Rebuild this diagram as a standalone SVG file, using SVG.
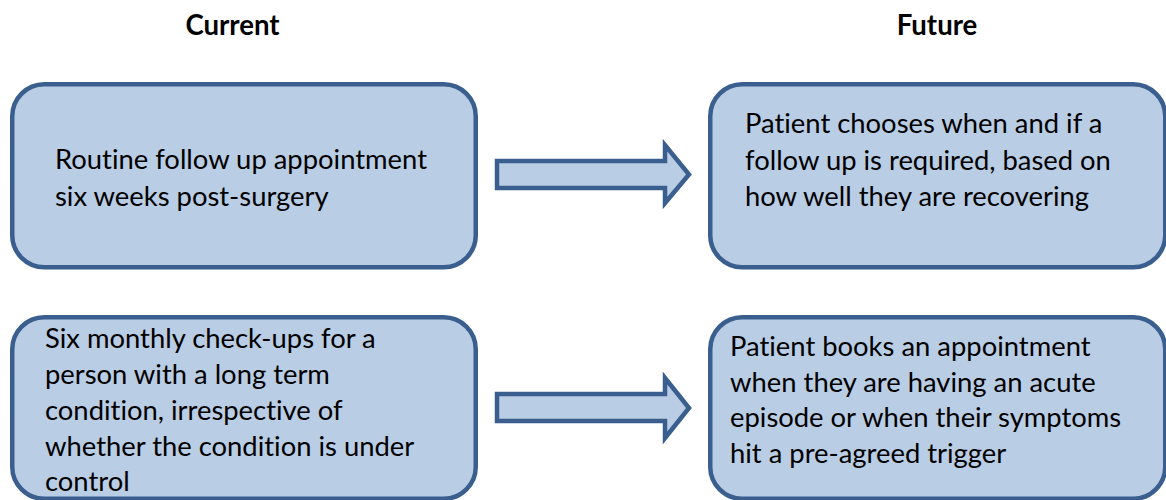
<svg xmlns="http://www.w3.org/2000/svg" width="1166" height="500" viewBox="0 0 1166 500">
  <style>
    .box { fill: #B9CDE5; stroke: #3A5F8F; stroke-width: 4.5; }
    .arrow { fill: #B9CDE5; stroke: #3A5F8F; stroke-width: 4.5; stroke-linejoin: miter; }
    .t { font-family: Lato, "Open Sans", "Liberation Sans", sans-serif; font-size: 27.4px; fill: #000; font-variant-ligatures: none; }
    .h { font-family: Lato, "Open Sans", "Liberation Sans", sans-serif; font-size: 27.6px; font-weight: bold; fill: #000; text-anchor: middle; font-variant-ligatures: none; }
  </style>
  <rect width="1166" height="500" fill="#FFFFFF"/>
  <g id="headers">
    <text class="h" x="232.5" y="35">Current</text>
    <text class="h" x="937" y="35">Future</text>
  </g>
  <g id="connectors">
    <path class="arrow" d="M497,161 H665 V145 L689,174.5 L665,203 V188 H497 Z"/>
    <path class="arrow" d="M497,394 H665 V378 L689,408 L665,438 V421 H497 Z"/>
  </g>
  <g id="current1">
    <rect class="box" x="12.25" y="84.25" width="463.5" height="183" rx="32" ry="32"/>
    <text class="t" x="55" y="169">Routine follow up appointment</text>
    <text class="t" x="55" y="206">six weeks post-surgery</text>
  </g>
  <g id="future1">
    <rect class="box" x="710.25" y="84.25" width="455" height="183" rx="32" ry="32"/>
    <text class="t" x="745" y="133">Patient chooses when and if a</text>
    <text class="t" x="745" y="169.5">follow up is required, based on</text>
    <text class="t" x="745" y="206">how well they are recovering</text>
  </g>
  <g id="current2">
    <rect class="box" x="12.25" y="317.25" width="463.5" height="181.5" rx="32" ry="32"/>
    <text class="t" x="45" y="348">Six monthly check-ups for a</text>
    <text class="t" x="45" y="384">person with a long term</text>
    <text class="t" x="45" y="420">condition, irrespective of</text>
    <text class="t" x="45" y="455.5">whether the condition is under</text>
    <text class="t" x="45" y="491">control</text>
  </g>
  <g id="future2">
    <rect class="box" x="710.25" y="317.25" width="455" height="181.5" rx="32" ry="32"/>
    <text class="t" x="730" y="356">Patient books an appointment</text>
    <text class="t" x="730" y="391.5">when they are having an acute</text>
    <text class="t" x="730" y="427">episode or when their symptoms</text>
    <text class="t" x="730" y="462.5">hit a pre-agreed trigger</text>
  </g>
</svg>
